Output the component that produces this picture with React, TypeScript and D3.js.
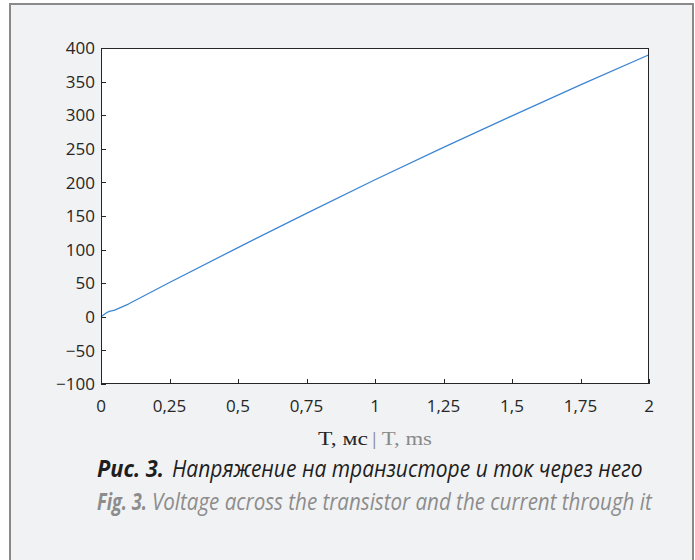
import React, { useLayoutEffect, useRef, useState } from "react";
import * as d3 from "d3";

const timeMs = [0, 0.01, 0.02, 0.03, 0.05, 0.1, 0.25, 0.5, 0.75, 1, 1.25, 1.5, 1.75, 2];
const voltage = [0, 3, 6, 8, 10, 19, 51, 103, 154, 204, 252, 299, 345, 390];
const xTicks = [0, 0.25, 0.5, 0.75, 1, 1.25, 1.5, 1.75, 2];
const xTickLabels = ["0", "0,25", "0,5", "0,75", "1", "1,25", "1,5", "1,75", "2"];
const yTicks = [-100, -50, 0, 50, 100, 150, 200, 250, 300, 350, 400];

const W = 695;
const H = 560;
const L = 101, R = 649, T = 48, B = 384;

type FitProps = {
  x: number;
  y: number;
  width: number;
  fontFamily: string;
  fontSize: number;
  fill: string;
  italic?: boolean;
  bold?: boolean;
  children: string;
};

function FitText({ x, y, width, fontFamily, fontSize, fill, italic, bold, children }: FitProps) {
  const ref = useRef<SVGTextElement>(null);
  const [sx, setSx] = useState(1);
  useLayoutEffect(() => {
    if (ref.current) {
      const w = ref.current.getComputedTextLength();
      if (w > 0) setSx(width / w);
    }
  }, [width, children]);
  return (
    <text
      ref={ref}
      transform={`translate(${x},${y}) scale(${sx},1)`}
      fontFamily={fontFamily}
      fontSize={fontSize}
      fontStyle={italic ? "italic" : "normal"}
      fontWeight={bold ? "bold" : "normal"}
      fill={fill}
    >
      {children}
    </text>
  );
}

export default function App() {
  const x = d3.scaleLinear().domain([0, 2]).range([L, R]);
  const y = d3.scaleLinear().domain([-100, 400]).range([B, T]);
  const line = d3
    .line<number>()
    .x((_, i) => x(timeMs[i]))
    .y((d) => y(d));
  const tickFont = "'Open Sans', 'Noto Sans', sans-serif";
  const capFont = "'Open Sans', 'Noto Sans', sans-serif";
  const serif = "'Liberation Serif', 'DejaVu Serif', serif";
  return (
    <svg
      width={W}
      height={H}
      style={{ position: "absolute", left: 0, top: 0 }}
      xmlns="http://www.w3.org/2000/svg"
    >
      <rect x={0} y={0} width={W} height={H} fill="#ffffff" />
      <rect x={10} y={4} width={683} height={H} fill="#f1f2f4" />
      <line x1={10} y1={4} x2={694} y2={4} stroke="#8a8a8a" strokeWidth={2} />
      <line x1={10} y1={3} x2={10} y2={H} stroke="#8a8a8a" strokeWidth={2} />
      <line x1={693} y1={3} x2={693} y2={H} stroke="#8a8a8a" strokeWidth={2} />

      <rect x={L} y={T} width={R - L} height={B - T} fill="#ffffff" stroke="none" />
      <path d={line(voltage) || ""} fill="none" stroke="#3d86d3" strokeWidth={1.3} strokeLinejoin="round" />
      <rect x={L + 0.5} y={T + 0.5} width={R - L - 1} height={B - T - 1} fill="none" stroke="#262626" strokeWidth={1} />

      {yTicks.map((t) => (
        <g key={"y" + t}>
          <line x1={L} x2={L + 5} y1={Math.round(y(t)) + 0.5} y2={Math.round(y(t)) + 0.5} stroke="#262626" />
          <text
            x={95}
            y={y(t)}
            dy="0.36em"
            textAnchor="end"
            fontFamily={tickFont}
            fontSize={17}
            fill="#262626"
          >
            {t < 0 ? "\u2212" + Math.abs(t) : String(t)}
          </text>
        </g>
      ))}
      {xTicks.map((t, i) => (
        <g key={"x" + t}>
          <line x1={Math.round(x(t)) + 0.5} x2={Math.round(x(t)) + 0.5} y1={B} y2={B - 5} stroke="#262626" />
          <text
            x={x(t)}
            y={412}
            textAnchor="middle"
            fontFamily={tickFont}
            fontSize={17}
            fill="#262626"
          >
            {xTickLabels[i]}
          </text>
        </g>
      ))}

      <FitText x={318} y={445} width={50} fontFamily={serif} fontSize={19} fill="#262626">
        T, мс
      </FitText>
      <FitText x={372} y={445} width={60} fontFamily={serif} fontSize={19} fill="#8a8a8a">
        | T, ms
      </FitText>

      <FitText x={97} y={477} width={67} fontFamily={capFont} fontSize={23} fill="#1e1e1e" italic bold>
        Рис. 3.
      </FitText>
      <FitText x={172} y={477} width={471} fontFamily={capFont} fontSize={23} fill="#1e1e1e" italic>
        Напряжение на транзисторе и ток через него
      </FitText>
      <FitText x={97} y={510} width={50} fontFamily={capFont} fontSize={23} fill="#8c8c8c" italic bold>
        Fig. 3.
      </FitText>
      <FitText x={152} y={510} width={500} fontFamily={capFont} fontSize={23} fill="#8c8c8c" italic>
        Voltage across the transistor and the current through it
      </FitText>
    </svg>
  );
}
